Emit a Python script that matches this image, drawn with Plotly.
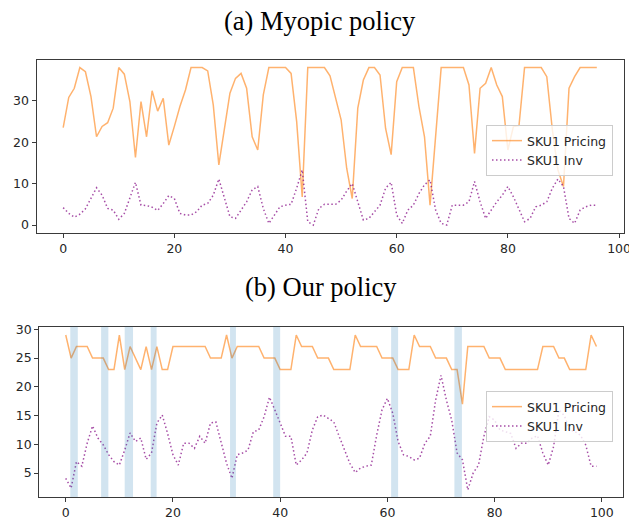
import plotly.graph_objects as go

# ---------------- data ----------------
top_steps = list(range(97))
top_pricing = [23.5, 30.8, 33, 38, 37, 31, 21.3, 23.8, 24.7, 28.2, 38, 36.4, 29.8, 16.3, 29.8, 21.3,
               32.4, 27.5, 30.6, 19.3, 23.8, 28.6, 32.6, 38, 38, 38, 37.2, 29, 14.5, 23.3, 31.8, 35.4,
               36.6, 33, 21.3, 18.1, 31.4, 38, 38, 38, 38, 36.6, 25, 6.8, 38, 38, 38, 38, 36, 30.6,
               25.4, 13.7, 6.4, 28.2, 35, 38, 38, 36.2, 23.3, 17, 34.6, 38, 38, 38, 28.6, 21.3, 4.8,
               21, 38, 38, 38, 38, 38, 33.8, 17.3, 33, 34.2, 38, 33.8, 31, 18.1, 23.8, 24, 38, 38, 38,
               38, 35.8, 23, 13.3, 9.3, 33, 35.8, 38, 38, 38, 38]
top_inv = [4.2, 2.8, 1.9, 2.6, 3.9, 6.4, 9, 7.2, 4, 3.6, 1.4, 2.8, 6.4, 10.3, 4.8, 4.7, 4.3, 3.5, 5.2,
           7.1, 6.4, 2.8, 2.4, 2.4, 3.2, 4.8, 5.2, 7.2, 11.1, 6.4, 2, 1.6, 3.6, 5.6, 8.5, 9.3, 4, 0.4,
           2.4, 4.4, 4.8, 5, 8.9, 13.3, 0.8, 0, 4, 5, 5, 5, 6, 8.2, 10, 5.6, 1.2, 1.6, 3.2, 4.8, 8.9,
           10.3, 2.4, 0.4, 3.6, 4.8, 7.6, 9.7, 10.9, 3.6, 0.4, 0, 4.8, 4.8, 4.8, 5.6, 10.5, 5.6, 1.6,
           3.6, 5.6, 7.2, 9.3, 6.8, 4, 0.8, 1.6, 4.4, 4.8, 5.6, 8.9, 11.1, 9.3, 1.6, 0.4, 3.6, 4.4,
           4.8, 4.8]

bot_steps = list(range(100))
bot_pricing = [29, 25, 27, 27, 27, 25, 25, 25, 23, 23, 29, 23, 27, 25, 23, 27, 23, 27, 23, 23,
               27, 27, 27, 27, 27, 27, 27, 25, 25, 25, 29, 25, 27, 27, 27, 27, 27, 25, 25, 25,
               23, 23, 23, 29, 27, 27, 27, 25, 25, 25, 23, 23, 23, 23, 29, 27, 27, 27, 27, 25,
               25, 25, 23, 23, 23, 29, 27, 27, 27, 25, 25, 25, 23, 23, 17, 27, 27, 27, 27, 25,
               25, 25, 23, 23, 23, 23, 23, 23, 23, 27, 27, 27, 25, 25, 23, 23, 23, 23, 29, 27]
bot_inv = [4.1, 2.4, 7.0, 6.2, 10.2, 13.2, 11.1, 9.9, 8.2, 7.0, 6.4, 9.0, 12.0, 10.5, 11.1, 7.4,
           8.5, 13.7, 15.1, 11.9, 8.2, 6.4, 10.2, 10.2, 9.3, 11.4, 10.2, 13.7, 13.9, 10.5, 6.7, 4.1,
           8.2, 8.5, 9.0, 12.2, 12.5, 14.8, 18.2, 16.0, 13.7, 11.4, 11.4, 6.4, 7.3, 8.5, 12.5, 14.8,
           15.1, 14.5, 13.9, 11.4, 9.0, 6.7, 5.1, 5.9, 6.2, 6.4, 11.6, 16.0, 18.0, 15.4, 10.5, 8.2,
           7.9, 7.3, 7.6, 10.2, 11.4, 17.7, 22.0, 17.7, 14.2, 8.5, 7.3, 2.1, 5.0, 6.4, 11.4, 14.8,
           14.2, 12.5, 12.2, 11.9, 9.3, 10.2, 10.2, 11.1, 11.5, 8.5, 6.4, 9.6, 16.0, 15.0, 12.5,
           12.2, 11.6, 9.9, 6.2, 6.2]

# highlighted intervals (start, end) in step units
band_starts = [0.85, 6.6, 11.0, 15.85, 30.65, 38.7, 60.7, 72.5]
band_ends = [2.25, 7.95, 12.55, 16.95, 31.75, 40.0, 62.0, 73.9]

titles = ["(a) Myopic policy", "(b) Our policy"]
x_ticks = [0, 20, 40, 60, 80, 100]
top_y_ticks = [0, 10, 20, 30]
bot_y_ticks = [5, 10, 15, 20, 25, 30]

# ---------------- styling ----------------
W, H = 629, 523
PRICE_COLOR = "rgba(255,127,14,0.6)"
INV_COLOR = "rgba(128,0,128,0.7)"
INV_DASH = "1.5px,2.5px"
TICK_FONT = dict(family="DejaVu Sans", size=12.5, color="#262626")
AX_COLOR = "#3a3a3a"


def px_x(p):
    return p / W


def px_y(p):
    return 1 - p / H


fig = go.Figure()

fig.add_trace(go.Scatter(x=top_steps, y=top_pricing, mode="lines", name="SKU1 Pricing",
                         line=dict(color=PRICE_COLOR, width=1.5), xaxis="x", yaxis="y",
                         legend="legend"))
fig.add_trace(go.Scatter(x=top_steps, y=top_inv, mode="lines", name="SKU1 Inv",
                         line=dict(color=INV_COLOR, width=1.5, dash=INV_DASH), xaxis="x", yaxis="y",
                         legend="legend"))
fig.add_trace(go.Scatter(x=bot_steps, y=bot_pricing, mode="lines", name="SKU1 Pricing",
                         line=dict(color=PRICE_COLOR, width=1.5), xaxis="x2", yaxis="y2",
                         legend="legend2"))
fig.add_trace(go.Scatter(x=bot_steps, y=bot_inv, mode="lines", name="SKU1 Inv",
                         line=dict(color=INV_COLOR, width=1.5, dash=INV_DASH), xaxis="x2", yaxis="y2",
                         legend="legend2"))

for s, e in zip(band_starts, band_ends):
    fig.add_shape(type="rect", xref="x2", yref="y2 domain", x0=s, x1=e, y0=0, y1=1,
                  fillcolor="#1f77b4", opacity=0.2, line=dict(width=0), layer="above")

axis_common = dict(showline=True, mirror=True, linecolor=AX_COLOR, linewidth=1,
                   ticks="outside", ticklen=4, tickcolor=AX_COLOR, tickwidth=1,
                   showgrid=False, zeroline=False, tickfont=TICK_FONT, automargin=False)

legend_common = dict(bgcolor="rgba(255,255,255,0.8)", bordercolor="#cccccc", borderwidth=1,
                     font=dict(family="DejaVu Sans", size=12.5, color="#262626"),
                     xanchor="left", yanchor="top", tracegroupgap=0, itemwidth=30)

fig.update_layout(
    width=W, height=H, margin=dict(l=0, r=0, t=0, b=0),
    paper_bgcolor="white", plot_bgcolor="white", showlegend=True,
    xaxis=dict(domain=[px_x(36.5), px_x(623.5)], range=[-4.8, 100.8], tickvals=x_ticks,
               anchor="y", ticklabeloverflow="allow", **axis_common),
    yaxis=dict(domain=[px_y(232.9), px_y(59.7)], range=[-1.9, 39.9], tickvals=top_y_ticks,
               anchor="x", **axis_common),
    xaxis2=dict(domain=[px_x(39.2), px_x(623)], range=[-4.95, 103.95], tickvals=x_ticks,
                anchor="y2", ticklabeloverflow="allow", **axis_common),
    yaxis2=dict(domain=[px_y(497), px_y(326.7)], range=[0.85, 30.45], tickvals=bot_y_ticks,
                anchor="x2", **axis_common),
    legend=dict(x=px_x(486), y=px_y(125), **legend_common),
    legend2=dict(x=px_x(486), y=px_y(391), **legend_common),
)

fig.add_annotation(text=titles[0], x=px_x(320), y=px_y(21), xref="paper", yref="paper",
                   showarrow=False, xanchor="center", yanchor="middle",
                   font=dict(family="Liberation Serif", size=26.5, color="black"))
fig.add_annotation(text=titles[1], x=px_x(321), y=px_y(287), xref="paper", yref="paper",
                   showarrow=False, xanchor="center", yanchor="middle",
                   font=dict(family="Liberation Serif", size=26.5, color="black"))

fig.write_html("out.html")
